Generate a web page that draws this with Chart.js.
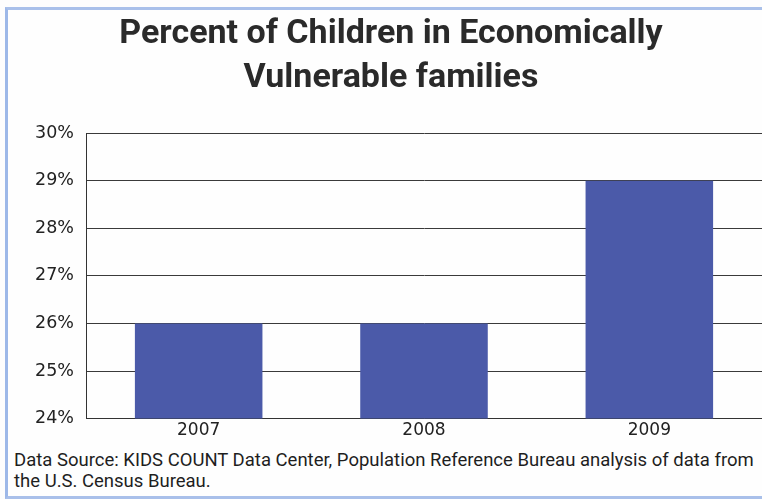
<!DOCTYPE html>
<html>
<head>
<meta charset="utf-8">
<script src="https://cdn.jsdelivr.net/npm/chart.js@4"></script>
<style>
  html, body { margin: 0; padding: 0; background: #fdfdfd; }
  #frame {
    position: absolute; left: 5px; top: 7px; width: 770px; height: 486px;
    border-left: 3px solid #9db8e8; border-top: 3px solid #a9c0ea; border-bottom: 3px solid #a9c0ea;
    background: #fefefe;
  }
  #wrap { position: absolute; left: 0; top: 0; width: 762px; height: 443px; }
  #source {
    position: absolute; left: 14px; top: 450px; width: 748px;
    font-family: Roboto, "Open Sans", sans-serif;
    font-size: 18.5px; line-height: 21px; color: #1e1e1e;
  }
</style>
</head>
<body>
<div id="frame"></div>
<div id="wrap"><canvas id="chart"></canvas></div>
<div id="source">Data Source: KIDS COUNT Data Center, Population Reference Bureau analysis of data from<br>the U.S. Census Bureau.</div>
<script>
// Share of children in economically vulnerable families, by year
const years = ['2007', '2008', '2009'];
const percents = [26, 26, 29];
const yTicks = [24, 25, 26, 27, 28, 29, 30];

new Chart(document.getElementById('chart'), {
    type: 'bar',
    data: {
        labels: years,
        datasets: [{
            data: percents,
            backgroundColor: '#4b5aa9',
            borderWidth: 0,
            categoryPercentage: 1,
            barPercentage: 0.566
        }]
    },
    options: {
        responsive: true,
        maintainAspectRatio: false,
        animation: false,
        layout: { padding: { top: 8, left: 20, right: 0, bottom: 0 } },
        plugins: {
            legend: { display: false },
            tooltip: { enabled: false },
            title: {
                display: true,
                text: ['Percent of Children in Economically', 'Vulnerable families'],
                color: '#2a2a2a',
                font: { family: 'Roboto, "Open Sans", sans-serif', size: 34, weight: 'bold', lineHeight: 1.28 },
                padding: { top: 5, bottom: 33 }
            }
        },
        scales: {
            x: {
                grid: { display: false, drawTicks: false },
                border: { color: '#333', width: 1 },
                ticks: {
                    color: '#222',
                    padding: 2,
                    font: { family: '"DejaVu Sans", sans-serif', size: 17 }
                }
            },
            y: {
                min: 24,
                max: 30,
                afterBuildTicks: scale => { scale.ticks = yTicks.map(v => ({ value: v })); },
                afterFit: scale => { scale.width = 66; },
                grid: { color: '#3a3a3a', lineWidth: 1, drawTicks: false },
                border: { color: '#333', width: 1 },
                ticks: {
                    color: '#222',
                    padding: 12,
                    font: { family: '"DejaVu Sans", sans-serif', size: 17.5 },
                    callback: v => v + '%'
                }
            }
        }
    }
});
</script>
</body>
</html>
